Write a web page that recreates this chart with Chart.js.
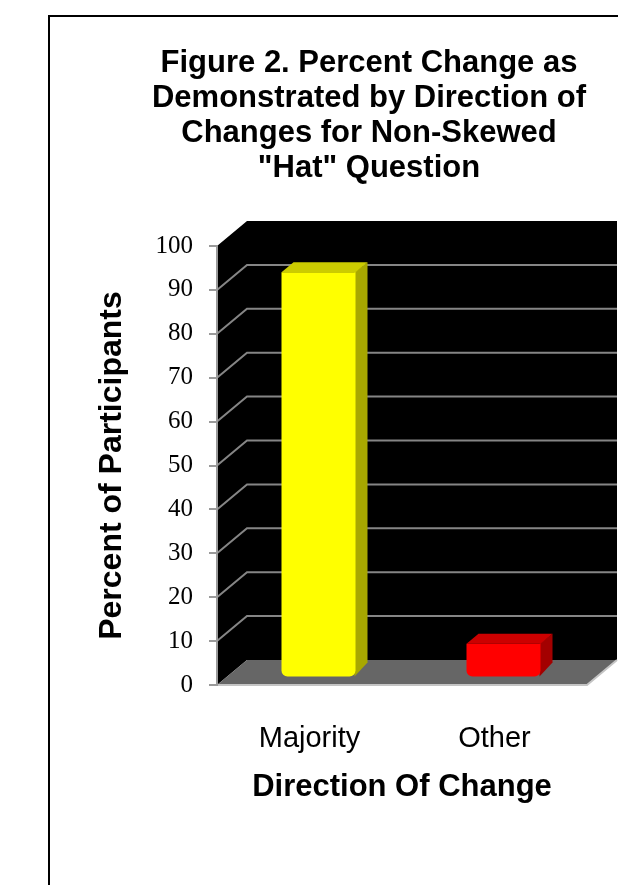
<!DOCTYPE html>
<html>
<head>
<meta charset="utf-8">
<script src="https://cdn.jsdelivr.net/npm/chart.js@4.4.0/dist/chart.umd.min.js"></script>
<style>
    html, body { margin: 0; padding: 0; background: #fff; }
    #c { display: block; }
</style>
</head>
<body>
<canvas id="c" width="618" height="885"></canvas>
<script>
(function () {
    'use strict';

    /* ---- data ---- */
    var categories = ['Majority', 'Other'];
    var percentValues = [92.3, 7.7];
    var yTickValues = [0, 10, 20, 30, 40, 50, 60, 70, 80, 90, 100];
    var titleLines = [
        'Figure 2. Percent Change as',
        'Demonstrated by Direction of',
        'Changes for Non-Skewed',
        '"Hat" Question'
    ];

    var frontColors = ['#ffff00', '#ff0000'];
    var topColors = ['#cccc00', '#cc0000'];
    var sideColors = ['#a8a800', '#a30000'];

    var SANS = '"Liberation Sans", Arial, sans-serif';
    var SERIF = '"Liberation Serif", "Times New Roman", serif';

    // 3D depth of the plot box, and where bars sit inside it
    var DX = 30, DY = -25;
    var BAR_FRONT = 0.3, BAR_BACK = 0.7;

    function poly(ctx, pts) {
        ctx.beginPath();
        ctx.moveTo(pts[0][0], pts[0][1]);
        for (var i = 1; i < pts.length; i++) ctx.lineTo(pts[i][0], pts[i][1]);
        ctx.closePath();
    }

    var box3d = {
        id: 'box3d',
        beforeDraw: function (chart) {
            var ctx = chart.ctx, a = chart.chartArea, ys = chart.scales.y;
            var L = a.left, R = a.right, T = a.top, B = a.bottom;
            ctx.save();

            // left side wall + back wall
            ctx.fillStyle = '#000';
            poly(ctx, [[L, T], [L + DX, T + DY], [R + DX, T + DY], [R + DX, B + DY], [L + DX, B + DY], [L, B]]);
            ctx.fill();

            // gridlines (side diagonal + back horizontal)
            ctx.strokeStyle = '#858585';
            ctx.lineWidth = 2;
            ys.ticks.forEach(function (t) {
                if (t.value <= 0 || t.value >= 100) return;
                var py = ys.getPixelForValue(t.value);
                ctx.beginPath();
                ctx.moveTo(L, py);
                ctx.lineTo(L + DX, py + DY);
                ctx.lineTo(R + DX, py + DY);
                ctx.stroke();
            });

            // floor
            ctx.fillStyle = '#666666';
            poly(ctx, [[L, B], [L + DX, B + DY], [R + DX, B + DY], [R, B]]);
            ctx.fill();
            ctx.strokeStyle = '#c4c4c4';
            ctx.beginPath();
            ctx.moveTo(L, B);
            ctx.lineTo(R, B);
            ctx.lineTo(R + DX, B + DY);
            ctx.stroke();
            ctx.restore();
        },
        afterDatasetsDraw: function (chart) {
            var ctx = chart.ctx;
            var meta = chart.getDatasetMeta(0);
            var ox = DX * (BAR_BACK - BAR_FRONT), oy = DY * (BAR_BACK - BAR_FRONT);
            ctx.save();
            meta.data.forEach(function (el, i) {
                var p = el.getProps(['x', 'y', 'base', 'width'], true);
                var x0 = p.x - p.width / 2 + DX * BAR_FRONT;
                var x1 = p.x + p.width / 2 + DX * BAR_FRONT;
                var yt = p.y + DY * BAR_FRONT;
                var yb = p.base + DY * BAR_FRONT;

                // side
                ctx.fillStyle = sideColors[i];
                poly(ctx, [[x1 - 1, yt], [x1 + ox, yt + oy], [x1 + ox, yb + oy - 4], [x1 - 1, yb]]);
                ctx.fill();
                // top
                ctx.fillStyle = topColors[i];
                poly(ctx, [[x0, yt], [x0 + ox, yt + oy], [x1 + ox, yt + oy], [x1, yt]]);
                ctx.fill();
                // front
                ctx.fillStyle = frontColors[i];
                ctx.beginPath();
                ctx.roundRect(x0, yt, x1 - x0, yb - yt, [0, 0, 6, 6]);
                ctx.fill();
            });
            ctx.restore();
        },
        afterDraw: function (chart) {
            var ctx = chart.ctx;
            ctx.save();
            // frame round the figure
            ctx.strokeStyle = '#000';
            ctx.lineWidth = 2;
            ctx.beginPath();
            ctx.moveTo(49, chart.height);
            ctx.lineTo(49, 16);
            ctx.lineTo(chart.width, 16);
            ctx.stroke();

            // figure title
            ctx.fillStyle = '#000';
            ctx.font = 'bold 31px ' + SANS;
            ctx.textAlign = 'center';
            ctx.textBaseline = 'alphabetic';
            titleLines.forEach(function (line, i) {
                ctx.fillText(line, 369, 72 + i * 35);
            });
            ctx.restore();
        }
    };

    new Chart(document.getElementById('c'), {
        type: 'bar',
        data: {
            labels: categories,
            datasets: [{
                data: percentValues,
                backgroundColor: 'rgba(0,0,0,0)',
                borderWidth: 0,
                categoryPercentage: 1,
                barPercentage: 0.4
            }]
        },
        plugins: [box3d],
        options: {
            responsive: false,
            animation: false,
            devicePixelRatio: 1,
            layout: { padding: { left: 93, right: 31, top: 246, bottom: 79.4 } },
            plugins: {
                legend: { display: false },
                title: { display: false },
                tooltip: { enabled: false }
            },
            scales: {
                x: {
                    offset: true,
                    grid: { display: false },
                    border: { display: false },
                    ticks: { color: '#000', font: { family: SANS, size: 29 }, padding: 29 },
                    title: {
                        display: true,
                        text: 'Direction Of Change',
                        color: '#000',
                        font: { family: SANS, size: 31, weight: 'bold' },
                        padding: 0
                    },
                    afterFit: function (s) { s.height = 120.6; }
                },
                y: {
                    min: 0,
                    max: 100,
                    afterBuildTicks: function (s) {
                        s.ticks = yTickValues.map(function (v) { return { value: v }; });
                    },
                    ticks: { color: '#000', font: { family: SERIF, size: 25 }, padding: 16 },
                    grid: { display: true, drawOnChartArea: false, drawTicks: true, tickLength: 8, color: '#9a9a9a', lineWidth: 2 },
                    border: { display: true, color: '#9a9a9a', width: 2 },
                    title: {
                        display: true,
                        text: 'Percent of Participants',
                        color: '#000',
                        font: { family: SANS, size: 32, weight: 'bold' },
                        padding: 0
                    },
                    afterFit: function (s) { s.width = 124; }
                }
            }
        }
    });
})();
</script>
</body>
</html>
